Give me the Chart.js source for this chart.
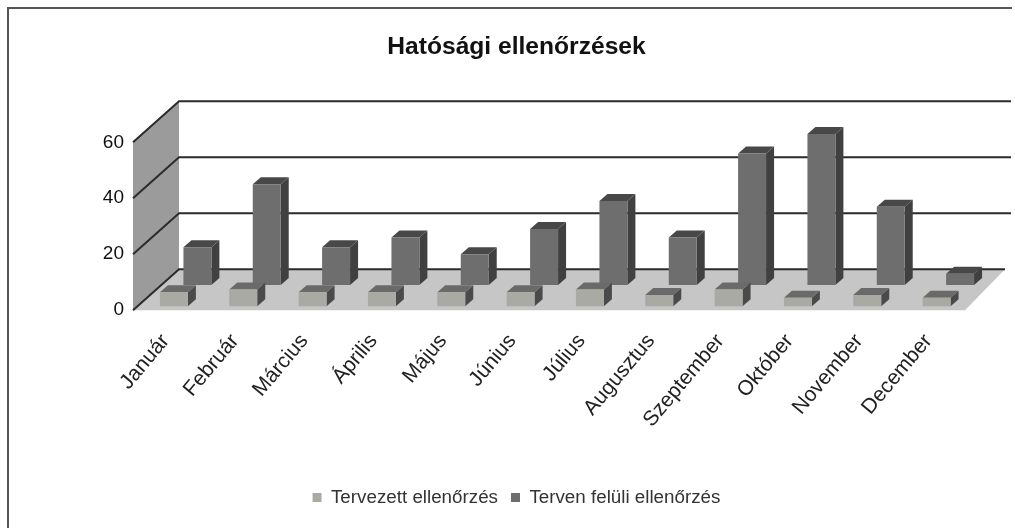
<!DOCTYPE html>
<html>
<head>
<meta charset="utf-8">
<title>Hatósági ellenőrzések</title>
<script src="https://cdn.jsdelivr.net/npm/chart.js@4"></script>
<style>
html, body { margin: 0; padding: 0; background: #fff; }
#wrap { width: 1015px; height: 528px; }
</style>
</head>
<body>
<div id="wrap"><canvas id="myChart" width="1015" height="528"></canvas></div>
<script>
const honapok = ['Január', 'Február', 'Március', 'Április', 'Május', 'Június', 'Július', 'Augusztus', 'Szeptember', 'Október', 'November', 'December'];
const tervezett = [5, 6, 5, 5, 5, 5, 6, 4, 6, 3, 4, 3];
const tervenFeluli = [13.5, 36, 13.5, 17, 11, 20, 30, 17, 47, 54, 28, 4];
const yCimkek = [0, 20, 40, 60];

const FONT = '"Liberation Sans", Arial, sans-serif';
const WALL_DX = 46, WALL_DY = 41;   // oldalfal melysege
const BAR_DX = 8, BAR_DY = 7;       // oszlop melysege

function poly(ctx, pts, color) {
    ctx.fillStyle = color;
    ctx.beginPath();
    pts.forEach((p, i) => i ? ctx.lineTo(p[0], p[1]) : ctx.moveTo(p[0], p[1]));
    ctx.closePath();
    ctx.fill();
}

// keret, fal, padlo, racsvonalak
const haromD = {
    id: 'haromD',
    beforeDraw(chart) {
        const c = chart.ctx;
        c.save();
        c.strokeStyle = '#555';
        c.lineWidth = 2;
        c.beginPath();
        c.moveTo(8, 528);
        c.lineTo(8, 8);
        c.lineTo(1012, 8);
        c.stroke();
        c.restore();
    },
    beforeDatasetsDraw(chart) {
        const c = chart.ctx, a = chart.chartArea, y = chart.scales.y;
        const bal = a.left - 18, jobb = a.right + 28;
        const y0 = y.getPixelForValue(0);
        c.save();
        poly(c, [[bal, y0], [bal + WALL_DX, y0 - WALL_DY], [bal + WALL_DX, y.getPixelForValue(60) - WALL_DY], [bal, y.getPixelForValue(60)]], '#9b9b9b');
        poly(c, [[bal, y0], [bal + WALL_DX, y0 - WALL_DY], [jobb - 6, y0 - WALL_DY], [jobb - 46, y0]], '#c6c6c6');
        c.strokeStyle = '#2b2b2b';
        c.lineWidth = 2;
        yCimkek.forEach(v => {
            const p = y.getPixelForValue(v);
            c.beginPath();
            c.moveTo(bal, p);
            c.lineTo(bal + WALL_DX, p - WALL_DY);
            c.lineTo(v === 0 ? jobb - 6 : jobb, p - WALL_DY);
            c.stroke();
        });
        c.restore();
    },
    // az oszlopok oldala es teteje
    beforeDatasetDraw(chart, args) {
        const c = chart.ctx;
        const ds = chart.data.datasets[args.index];
        chart.getDatasetMeta(args.index).data.forEach(b => {
            const r = b.x + b.width / 2, l = b.x - b.width / 2;
            poly(c, [[r, b.y], [r + BAR_DX, b.y - BAR_DY], [r + BAR_DX, b.base - BAR_DY], [r, b.base]], ds.sideColor);
            poly(c, [[l, b.y], [l + BAR_DX, b.y - BAR_DY], [r + BAR_DX, b.y - BAR_DY], [r, b.y]], ds.topColor);
        });
    }
};

const ctx = document.getElementById('myChart').getContext('2d');
const myChart = new Chart(ctx, {
    type: 'bar',
    data: {
        labels: honapok,
        datasets: [{
            label: 'Tervezett ellenőrzés',
            data: tervezett,
            yAxisID: 'yElso',
            backgroundColor: '#aaaaa4',
            sideColor: '#4a4a4a',
            topColor: '#6a6a6a',
            categoryPercentage: 0.678,
            barPercentage: 1.19
        }, {
            label: 'Terven felüli ellenőrzés',
            data: tervenFeluli,
            yAxisID: 'yHatso',
            backgroundColor: '#6e6e6e',
            sideColor: '#404040',
            topColor: '#484848',
            categoryPercentage: 0.678,
            barPercentage: 1.19
        }]
    },
    options: {
        responsive: false,
        animation: false,
        layout: { padding: { left: 18, right: 0, top: 0, bottom: 11 } },
        plugins: {
            title: {
                display: true,
                text: 'Hatósági ellenőrzések',
                color: '#111',
                font: { family: FONT, size: 24.6, weight: 'bold' },
                padding: { top: 32, bottom: 38.5 }
            },
            legend: {
                position: 'bottom',
                labels: {
                    color: '#333',
                    font: { family: FONT, size: 18.8 },
                    boxWidth: 9,
                    boxHeight: 9,
                    padding: 13
                }
            },
            tooltip: { enabled: false }
        },
        scales: {
            x: {
                grid: { display: false },
                border: { display: false },
                afterFit(s) { s.height = 165; },
                ticks: {
                    autoSkip: false,
                    minRotation: 50,
                    maxRotation: 50,
                    labelOffset: -20,
                    padding: 11,
                    color: '#222',
                    font: { family: FONT, size: 21 }
                }
            },
            y: {
                min: 0,
                max: 75.1,
                grid: { display: false, drawTicks: false },
                border: { display: false },
                afterFit(s) { s.width = 133; },
                afterBuildTicks(s) { s.ticks = yCimkek.map(v => ({ value: v })); },
                ticks: {
                    padding: 27,
                    color: '#111',
                    font: { family: FONT, size: 19 }
                }
            },
            // jobb oldali ures sav, hogy a cim a teljes szelesseghez igazodjon
            yJobb: {
                axis: 'y',
                position: 'right',
                min: 0,
                max: 1,
                grid: { display: false, drawTicks: false },
                border: { display: false },
                ticks: { display: false },
                afterFit(s) { s.width = 32; }
            },
            yElso: { axis: 'y', display: false, min: -1.44, max: 73.66 },
            yHatso: { axis: 'y', display: false, min: -9, max: 66.1 }
        }
    },
    plugins: [haromD]
});
</script>
</body>
</html>
